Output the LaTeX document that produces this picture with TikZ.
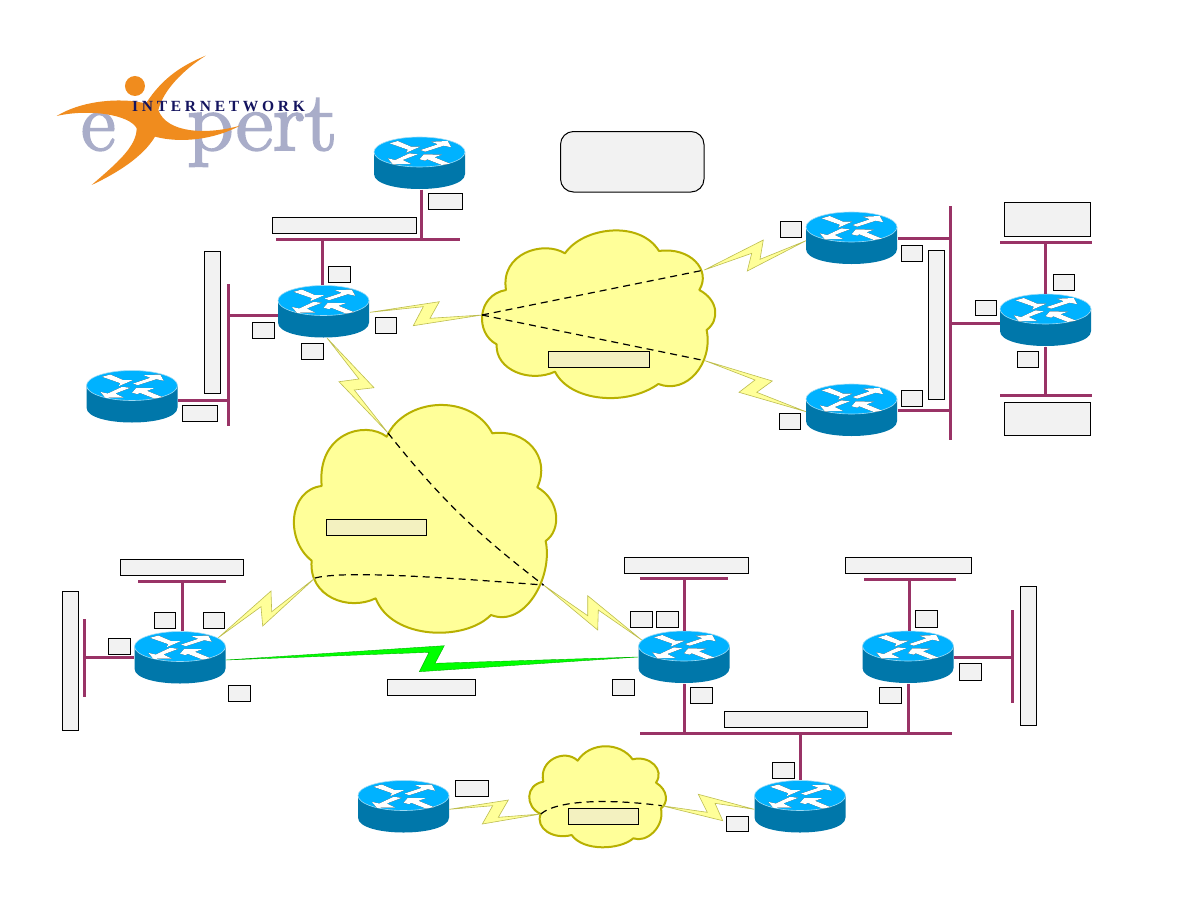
\documentclass[tikz,border=0pt]{standalone}
\usepackage{fontspec}
\usetikzlibrary{calc}
\newfontfamily\logofont[LetterSpace=24]{Liberation Serif Bold}
\newfontfamily\logoserif[FakeBold=2.4]{Latin Modern Roman}
\definecolor{busviolet}{HTML}{993366}
\definecolor{routertop}{HTML}{00B2FF}
\definecolor{routerside}{HTML}{0077AA}
\definecolor{routeredge}{HTML}{9FDCF5}
\definecolor{cloudfill}{HTML}{FFFF99}
\definecolor{cloudedge}{HTML}{B8B000}
\definecolor{boltedge}{HTML}{BDBD50}
\definecolor{tagfill}{HTML}{F2F2F2}
\definecolor{tagcloud}{HTML}{F3F1C0}
\definecolor{swoosh}{HTML}{F08C1E}
\definecolor{logogrey}{HTML}{A9ADC9}
\definecolor{logonavy}{HTML}{14145F}
% The four arrows on a router's top face, around the body centre
\newcommand\routerglyphs{
  (-30,-19.7) -- (-21.7,-22) -- (-8.3,-16.3) -- (.7,-16.3) -- (-13.3,-10.3) -- (-11.7,-13.3) -- cycle
  (1,-13) -- (18.3,-18.7) -- (11.7,-21.3) -- (28.3,-22) -- (31.7,-15.7) -- (24.3,-17.3) -- (5.7,-11.3) -- cycle
  (-1.7,-8.7) -- (-16.7,-3) -- (-8.3,1) -- (-26.7,1.3) -- (-31.7,-4.7) -- (-24.3,-3) -- (-10,-9.7) -- cycle
  (0,-3.7) -- (4.3,-8.7) -- (22.3,-8.3) -- (15,-5.7) -- (30.7,.7) -- (22.3,2) -- (7.7,-3.7) -- (5.7,-2.3) -- cycle
}
\newcommand\routerbody{
  \begin{scope}[shift={(path picture bounding box.center)}]
    \fill[routerside] (-45.5,-11) -- (-45.5,11) .. controls (-45.5,31) and (45.5,31) .. (45.5,11)
      -- (45.5,-11) -- cycle;
    \fill[routertop,draw=routeredge,line width=.6pt] (0,-11) ellipse[x radius=45.5,y radius=15];
    \fill[black,shift={(-.3,-.5)}] \routerglyphs;
    \fill[white] \routerglyphs;
  \end{scope}
}
\tikzset{
  routerbox/.style={inner sep=0pt,outer sep=0pt,minimum width=92pt,minimum height=53pt,path picture={\routerbody}},
  bus/.style={draw=busviolet,line width=3pt},
  cloudshape/.style={fill=cloudfill,draw=cloudedge,line width=2pt,line join=round},
  vc/.style={draw=black,line width=1.2pt,dash pattern=on 7pt off 5pt},
  boltshape/.style={fill=cloudfill,draw=boltedge,line width=.6pt,line join=miter},
  greenbolt/.style={fill=green,draw=green!70!black,line width=.4pt},
  tagshape/.style={draw=black,line width=1pt,inner sep=0pt,outer sep=0pt},
}
% A tag box from its corners
\newcommand\tagbox[6][tagfill]{%
  \pgfmathsetmacro\tagw{#5-#3}\pgfmathsetmacro\tagh{#6-#4}%
  \pgfmathsetmacro\tagx{(#3+#5)/2}\pgfmathsetmacro\tagy{(#4+#6)/2}%
  \node[tagshape,fill=#1,minimum width=\tagw pt,minimum height=\tagh pt] (#2) at (\tagx,\tagy) {};}
% A tapered lightning-bolt serial link
\newcommand\bolt[7][boltshape]{%
  \path[#1] (#2) -- (#3) -- (#4) -- (#5) -- (#6) -- (#7) -- cycle;}
\begin{document}
\begin{tikzpicture}[x=1pt,y=-1pt]
\useasboundingbox (0,0) rectangle (1188,918);
\fill[white] (0,0) rectangle (1188,918);

% Logo
\node[anchor=base west,inner sep=0pt,text=logogrey,font=\logoserif\fontsize{84}{84}\selectfont] (logoE) at (81,150) {e};
\node[anchor=base west,inner sep=0pt,text=logogrey,font=\logoserif\fontsize{84}{84}\selectfont,xscale=1.08] (logoPert) at (187,150) {pert};
\begin{scope}[shift={(40,40)},x=.3333pt,y=-.3333pt]
  \fill[swoosh] (285,138) circle[radius=30];
  \fill[swoosh] (50,228) .. controls (120,185) and (220,175) .. (290,185)
    -- (318,190) .. controls (370,110) and (430,75) .. (497,47)
    .. controls (430,90) and (370,150) .. (355,210)
    .. controls (380,280) and (500,285) .. (600,257)
    .. controls (520,300) and (420,310) .. (345,290)
    .. controls (310,350) and (230,400) .. (155,435)
    .. controls (230,370) and (290,320) .. (290,265)
    .. controls (270,225) and (150,205) .. (50,228) -- cycle;
\end{scope}
\node[anchor=base west,inner sep=0pt,text=logonavy,font=\logofont\fontsize{15.5}{15.5}\selectfont] (logoText) at (132,111.5) {INTERNETWORK};

% Frame-relay cloud
\begin{scope}[shift={(470,220)},x=.3333pt,y=-.3333pt]
  \path[cloudshape] (285,100) .. controls (340,20) and (510,0) .. (567,93)
    .. controls (660,80) and (725,150) .. (688,210)
    .. controls (745,240) and (750,300) .. (710,330)
    .. controls (730,430) and (650,525) .. (565,492)
    .. controls (470,560) and (300,545) .. (255,455)
    .. controls (180,490) and (75,450) .. (80,373)
    .. controls (15,340) and (20,225) .. (108,210)
    .. controls (90,100) and (220,60) .. (285,100) -- cycle;
\end{scope}
% Large central cloud
\begin{scope}[shift={(285,340)},x=.3333pt,y=-.3333pt]
  \path[cloudshape] (305,290) .. controls (360,170) and (560,160) .. (622,280)
    .. controls (720,265) and (800,350) .. (757,442)
    .. controls (825,480) and (830,570) .. (782,603)
    .. controls (805,710) and (720,865) .. (618,825)
    .. controls (540,905) and (320,900) .. (272,775)
    .. controls (190,815) and (70,770) .. (80,662)
    .. controls (0,600) and (10,450) .. (110,438)
    .. controls (95,280) and (240,240) .. (305,290) -- cycle;
\end{scope}
% Small bottom cloud
\begin{scope}[shift={(350,740)},x=.3333pt,y=-.3333pt]
  \path[cloudshape] (683,62) .. controls (720,5) and (810,5) .. (848,58)
    .. controls (900,45) and (945,90) .. (918,128)
    .. controls (955,150) and (955,190) .. (933,205)
    .. controls (945,260) and (890,310) .. (850,295)
    .. controls (810,330) and (700,335) .. (665,285)
    .. controls (610,300) and (555,265) .. (572,222)
    .. controls (525,200) and (525,135) .. (580,125)
    .. controls (565,60) and (645,25) .. (683,62) -- cycle;
\end{scope}

% Routers
\node[routerbox] (rTop) at (419.5,163) {};
\node[routerbox] (rHub) at (323.5,311.5) {};
\node[routerbox] (rWest) at (132,396.5) {};
\node[routerbox] (rEastA) at (851.5,238) {};
\node[routerbox] (rEastB) at (851.5,410) {};
\node[routerbox] (rFar) at (1045.5,320) {};
\node[routerbox] (rLowL) at (180,657.5) {};
\node[routerbox] (rLowM) at (684,657) {};
\node[routerbox] (rLowR) at (908,657) {};
\node[routerbox] (rBotL) at (403.5,806.5) {};
\node[routerbox] (rBotR) at (800,806.5) {};

% Serial links
\coordinate (frHub) at (482,315);
\coordinate (frA) at (704.3,270);
\coordinate (frB) at (705,360.7);
\coordinate (bigN) at (388,433);
\coordinate (bigE) at (543.5,585);
\coordinate (bigW) at (315,578);
\coordinate (smallW) at (540.7,814);
\coordinate (smallE) at (661.7,805.7);
\coordinate (hubSer) at (370,312.3);
\coordinate (hubSouth) at (327,338);
\coordinate (eastASer) at (806,240.7);
\coordinate (eastBSer) at (806,411.7);
\coordinate (lowLCloud) at (218.3,637.7);
\coordinate (lowMCloud) at (641.7,640);
\coordinate (lowLGreen) at (226,660);
\coordinate (lowMGreen) at (638,657);
\coordinate (botLSer) at (449.3,809.3);
\coordinate (botRSer) at (754.3,809.3);
\bolt{hubSer}{439.3,301.7}{430,318.3}{frHub}{413.3,325.7}{423.3,306.7}
\bolt{frA}{763.3,240}{760,259.3}{eastASer}{747.3,271}{751.7,253.3}
\bolt{frB}{772.3,381}{756.7,392.3}{eastBSer}{739,392.3}{755,380}
\bolt{hubSouth}{374,387.7}{354.3,390}{bigN}{339,381.7}{359,379}
\bolt{lowLCloud}{271,591}{271.7,611.7}{bigW}{262.7,626}{261,606.7}
\bolt{bigE}{587.7,615.7}{587.7,595.7}{lowMCloud}{598.3,610}{597.7,630}
\bolt[greenbolt]{lowLGreen}{444.3,645.7}{435,663.3}{lowMGreen}{419.3,671.7}{429,652.3}
\bolt{botLSer}{508.3,800}{498.3,817.3}{smallW}{482.3,824}{492.7,805.7}
\bolt{smallE}{722.7,820.7}{715,803.3}{botRSer}{698.3,794.3}{707.3,812.3}

% Virtual circuits across the clouds
\draw[vc] (frHub) -- (frA);
\draw[vc] (frHub) -- (frB);
\draw[vc] (bigN) .. controls (445,505) and (485,540) .. (bigE);
\draw[vc] (bigW) .. controls (345,570) and (450,578) .. (bigE);
\draw[vc] (smallW) .. controls (560,798) and (620,800) .. (smallE);

% LAN segments
\coordinate (busTopL) at (276,239.5);
\coordinate (busTopR) at (460,239.5);
\coordinate (busWestT) at (228.5,284);
\coordinate (busWestB) at (228.5,426);
\coordinate (busEastT) at (950.5,206);
\coordinate (busEastB) at (950.5,440);
\coordinate (busFarNL) at (1000,242.5);
\coordinate (busFarNR) at (1092,242.5);
\coordinate (busFarSL) at (1000,395);
\coordinate (busFarSR) at (1092,395);
\coordinate (busLowLNL) at (138,581.5);
\coordinate (busLowLNR) at (226,581.5);
\coordinate (busLowLWT) at (84.5,619);
\coordinate (busLowLWB) at (84.5,697);
\coordinate (busLowMNL) at (640,578);
\coordinate (busLowMNR) at (728,578);
\coordinate (busLowRNL) at (864,579);
\coordinate (busLowRNR) at (956,579);
\coordinate (busLowREB) at (1012.5,703);
\coordinate (busLowRET) at (1012.5,610);
\coordinate (busMainL) at (640,733.5);
\coordinate (busMainR) at (952,733.5);
\foreach \a/\b in {busTopL/busTopR,busWestT/busWestB,busEastT/busEastB,busFarNL/busFarNR,busFarSL/busFarSR,
  busLowLNL/busLowLNR,busLowLWT/busLowLWB,busLowMNL/busLowMNR,busLowRNL/busLowRNR,busLowRET/busLowREB,busMainL/busMainR}
  \draw[bus] (\a) -- (\b);

\draw[bus] ([xshift=2pt]rTop.south) -- ([xshift=2pt]rTop.south |- busTopL);
\draw[bus] ([xshift=-1pt]rHub.north) -- ([xshift=-1pt]rHub.north |- busTopL);
\draw[bus] ([yshift=-4pt]rHub.west) -- ([yshift=-4pt]rHub.west -| busWestT);
\draw[bus] ([yshift=-3.5pt]rWest.east) -- ([yshift=-3.5pt]rWest.east -| busWestT);
\draw[bus] (rEastA.east) -- (rEastA.east -| busEastT);
\draw[bus] (rEastB.east) -- (rEastB.east -| busEastT);
\draw[bus] ([yshift=-3pt]rFar.west) -- ([yshift=-3pt]rFar.west -| busEastT);
\draw[bus] (rFar.north) -- (rFar.north |- busFarNL);
\draw[bus] (rFar.south) -- (rFar.south |- busFarSL);
\draw[bus] ([xshift=2pt]rLowL.north) -- ([xshift=2pt]rLowL.north |- busLowLNL);
\draw[bus] (rLowL.west) -- (rLowL.west -| busLowLWT);
\draw[bus] ([xshift=.5pt]rLowM.north) -- ([xshift=.5pt]rLowM.north |- busLowMNL);
\draw[bus] ([xshift=.5pt]rLowM.south) -- ([xshift=.5pt]rLowM.south |- busMainL);
\draw[bus] ([xshift=1pt]rLowR.north) -- ([xshift=1pt]rLowR.north |- busLowRNL);
\draw[bus] (rLowR.south) -- (rLowR.south |- busMainL);
\draw[bus] (rLowR.east) -- (rLowR.east -| busLowRET);
\draw[bus] (rBotR.north) -- (rBotR.north |- busMainL);

% Tags
\node[tagshape,fill=tagfill,rounded corners=13pt,minimum width=143.5pt,minimum height=60.5pt] (legend) at (632.25,161.75) {};
\tagbox{tTopBus}{272.3}{217.3}{416.7}{233.3}
\tagbox{tTopIf}{428.3}{193.3}{462.3}{209.3}
\tagbox{tHubN}{328.3}{266.3}{350.7}{282.3}
\tagbox{tHubE}{375.3}{317.3}{396.7}{333.3}
\tagbox{tHubS}{301.3}{343.3}{323.7}{359.3}
\tagbox{tHubW}{252.5}{322.3}{274.7}{338.3}
\tagbox{tWestBus}{204.3}{251.3}{220.3}{393.3}
\tagbox{tWestIf}{182.5}{405.3}{217}{421.3}
\tagbox[tagcloud]{tFr}{548.3}{351}{649.7}{367.3}
\tagbox{tEastAS}{780.3}{221.3}{801.7}{237.3}
\tagbox{tEastAE}{901.3}{245.3}{922.7}{261.3}
\tagbox{tEastBus}{928.3}{250.3}{944.7}{399.7}
\tagbox{tFarN}{1004.3}{202.3}{1090.7}{236.3}
\tagbox{tFarNI}{1053.3}{274.3}{1074.7}{290.3}
\tagbox{tFarW}{975.3}{300.3}{996.7}{315.7}
\tagbox{tFarSI}{1017.3}{351.3}{1038.7}{367.3}
\tagbox{tEastBE}{901.3}{390.3}{922.7}{406.3}
\tagbox{tEastBS}{779.3}{413.3}{800.7}{429.3}
\tagbox{tFarS}{1004.3}{402.3}{1090.7}{435.3}
\tagbox{tLowLBus}{120.3}{559.3}{243.7}{575.3}
\tagbox{tLowLWest}{62.3}{591.3}{78.7}{730.3}
\tagbox{tLowLA}{154.3}{612.3}{175.7}{628.3}
\tagbox{tLowLB}{203.3}{612.3}{224.7}{628.3}
\tagbox{tLowLC}{108.3}{638.3}{130.7}{654.3}
\tagbox{tLowLD}{228.3}{685.3}{250.7}{701.3}
\tagbox[tagcloud]{tBig}{326.3}{519.3}{426.7}{535.3}
\tagbox{tGreen}{387.3}{679.3}{475.7}{695.3}
\tagbox{tLowMA}{612.3}{679.3}{634.7}{695.3}
\tagbox{tLowMB}{630.3}{611.3}{652.7}{627.3}
\tagbox{tLowMC}{656.3}{611.3}{678.7}{627.3}
\tagbox{tLowMD}{690.3}{687.3}{712.7}{703.3}
\tagbox{tLowMBus}{624.3}{557.5}{748.5}{573.7}
\tagbox{tLowRBus}{845.5}{557.5}{971.5}{573.7}
\tagbox{tLowRA}{915}{610.8}{937}{627}
\tagbox{tLowRB}{959}{663.5}{981}{680}
\tagbox{tLowRC}{879}{687}{901}{703}
\tagbox{tMain}{724}{711.5}{867}{727.5}
\tagbox{tLowREast}{1020.5}{586.5}{1036.5}{725}
\tagbox{tBotRN}{772.3}{762.3}{794.7}{778.3}
\tagbox{tBotL}{455.3}{780.3}{488.7}{796.3}
\tagbox{tBotRS}{726.3}{816.3}{748.7}{831.3}
\tagbox[tagcloud]{tSmall}{568.3}{808.3}{638.3}{824.3}
\end{tikzpicture}
\end{document}
